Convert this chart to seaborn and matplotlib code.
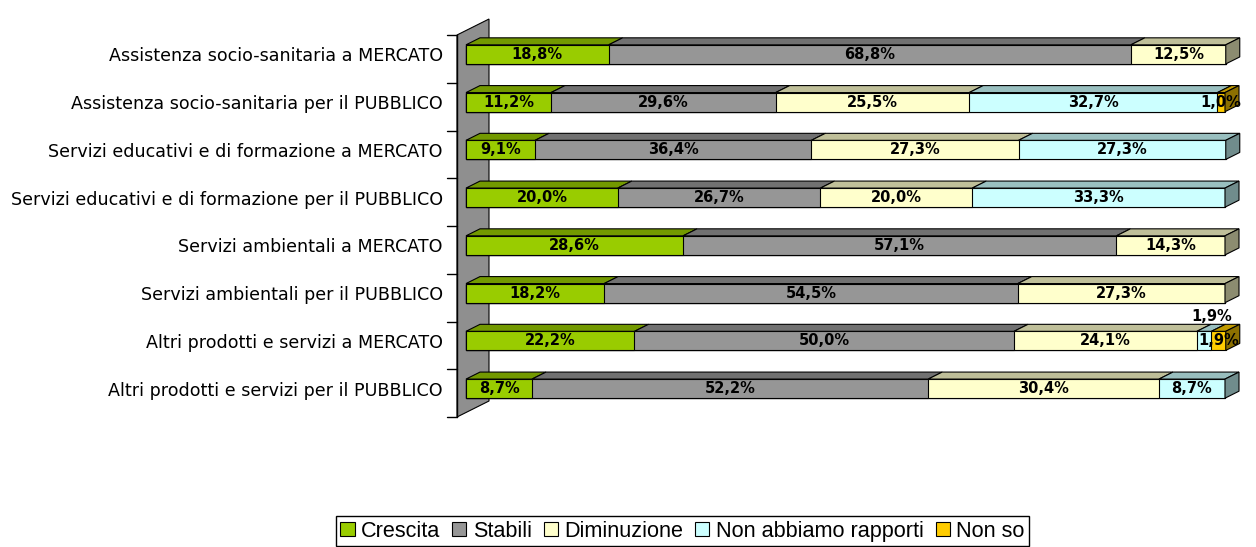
import numpy as np
import pandas as pd
import matplotlib
matplotlib.use("Agg")
import matplotlib.pyplot as plt
import seaborn as sns
from matplotlib.patches import Polygon, Patch
from matplotlib.lines import Line2D
from matplotlib.transforms import IdentityTransform
from matplotlib.colors import to_rgb

categories = [
    "Assistenza socio-sanitaria a MERCATO",
    "Assistenza socio-sanitaria per il PUBBLICO",
    "Servizi educativi e di formazione a MERCATO",
    "Servizi educativi e di formazione per il PUBBLICO",
    "Servizi ambientali a MERCATO",
    "Servizi ambientali per il PUBBLICO",
    "Altri prodotti e servizi a MERCATO",
    "Altri prodotti e servizi per il PUBBLICO",
]
series = ["Crescita", "Stabili", "Diminuzione", "Non abbiamo rapporti", "Non so"]
crescita = [18.8, 11.2, 9.1, 20.0, 28.6, 18.2, 22.2, 8.7]
stabili = [68.8, 29.6, 36.4, 26.7, 57.1, 54.5, 50.0, 52.2]
diminuzione = [12.5, 25.5, 27.3, 20.0, 14.3, 27.3, 24.1, 30.4]
non_rapporti = [0.0, 32.7, 27.3, 33.3, 0.0, 0.0, 1.9, 8.7]
non_so = [0.0, 1.0, 0.0, 0.0, 0.0, 0.0, 1.9, 0.0]
colors = ["#99cc00", "#969696", "#ffffcc", "#ccffff", "#ffcc00"]

sns.set_style("white")
plt.rcParams["font.family"] = ["DejaVu Sans"]

values = np.array([crescita, stabili, diminuzione, non_rapporti, non_so]).T
cum = np.cumsum(values, axis=1)
df = pd.DataFrame(cum, columns=series)
df["categoria"] = categories

fig = plt.figure(figsize=(12.56, 5.47), dpi=100)
ax = fig.add_axes([466 / 1256, 134.5 / 547, 759 / 1256, 382 / 547])

# stacked bars: draw cumulative totals from the widest down
for j in reversed(range(len(series))):
    sns.barplot(data=df, x=series[j], y="categoria", color=colors[j], orient="h",
                width=0.4, edgecolor="black", linewidth=0.8, saturation=1, ax=ax)
for p in ax.patches:
    p.set_clip_on(False)
    p.set_zorder(2)

ax.set_xlim(0, 100)
ax.set_ylim(7.5, -0.5)
ax.set_axis_off()

DX, DY = 14, 7  # bar depth in pixels


def px(x, y, dx=0, dy=0):
    X, Y = ax.transData.transform((x, y))
    return (X + dx, Y + dy)


def shade(c, f):
    return tuple(v * f for v in to_rgb(c))


def poly(pts, fc, z):
    ax.add_patch(Polygon(pts, closed=True, facecolor=fc, edgecolor="black",
                         linewidth=0.8, transform=IdentityTransform(),
                         clip_on=False, zorder=z))


# side wall
poly([px(0, -0.5, -9, -4.5), px(0, -0.5, 23, 11.5),
      px(0, 7.5, 23, 11.5), px(0, 7.5, -9, -4.5)], "#8f8f8f", 0.5)
a, b = px(0, -0.5, -9, -4.5), px(0, 7.5, -9, -4.5)
fig.add_artist(Line2D([a[0], b[0]], [a[1], b[1]], color="black", lw=1,
                      transform=IdentityTransform()))
for k in range(len(categories) + 1):
    t = px(0, k - 0.5, -9, -4.5)
    fig.add_artist(Line2D([t[0] - 10, t[0]], [t[1], t[1]], color="black", lw=1,
                          transform=IdentityTransform()))

for i, cat in enumerate(categories):
    x0, y0 = px(0, i, -23, -2)
    fig.text(x0 / 1256, y0 / 547, cat, ha="right", va="center", fontsize=12.6,
             color="black")
    left = 0.0
    nz = [j for j in range(len(series)) if values[i, j] > 0]
    yt = i - 0.2
    yb = i + 0.2
    for j in nz:
        v = values[i, j]
        right = left + v
        poly([px(left, yt), px(right, yt), px(right, yt, DX, DY),
              px(left, yt, DX, DY)], shade(colors[j], 0.75), 3)
        if j == nz[-1]:
            poly([px(right, yt), px(right, yb), px(right, yb, DX, DY),
                  px(right, yt, DX, DY)], shade(colors[j], 0.55), 3)
        lbl = f"{v:.1f}%".replace(".", ",")
        if v < 2 and j != nz[-1]:
            tx, ty = px((left + right) / 2, i, 8, 24)
        else:
            tx, ty = px((left + right) / 2, i)
        fig.text(tx / 1256, ty / 547, lbl, ha="center", va="center",
                 fontsize=10.5, fontweight="bold", color="black", zorder=5)
        left = right

handles = [Patch(facecolor=c, edgecolor="black", linewidth=0.8) for c in colors]
fig.legend(handles, series, loc="lower center", bbox_to_anchor=(682.5 / 1256, 1 / 547),
           ncol=5, frameon=True, fancybox=False, edgecolor="black", framealpha=1,
           handlelength=0.65, handleheight=0.65, handletextpad=0.3, columnspacing=0.55,
           borderpad=0.2, borderaxespad=0, labelcolor="black",
           prop={"family": "Liberation Sans", "size": 15.6})

fig.savefig("out.png", dpi=100)
